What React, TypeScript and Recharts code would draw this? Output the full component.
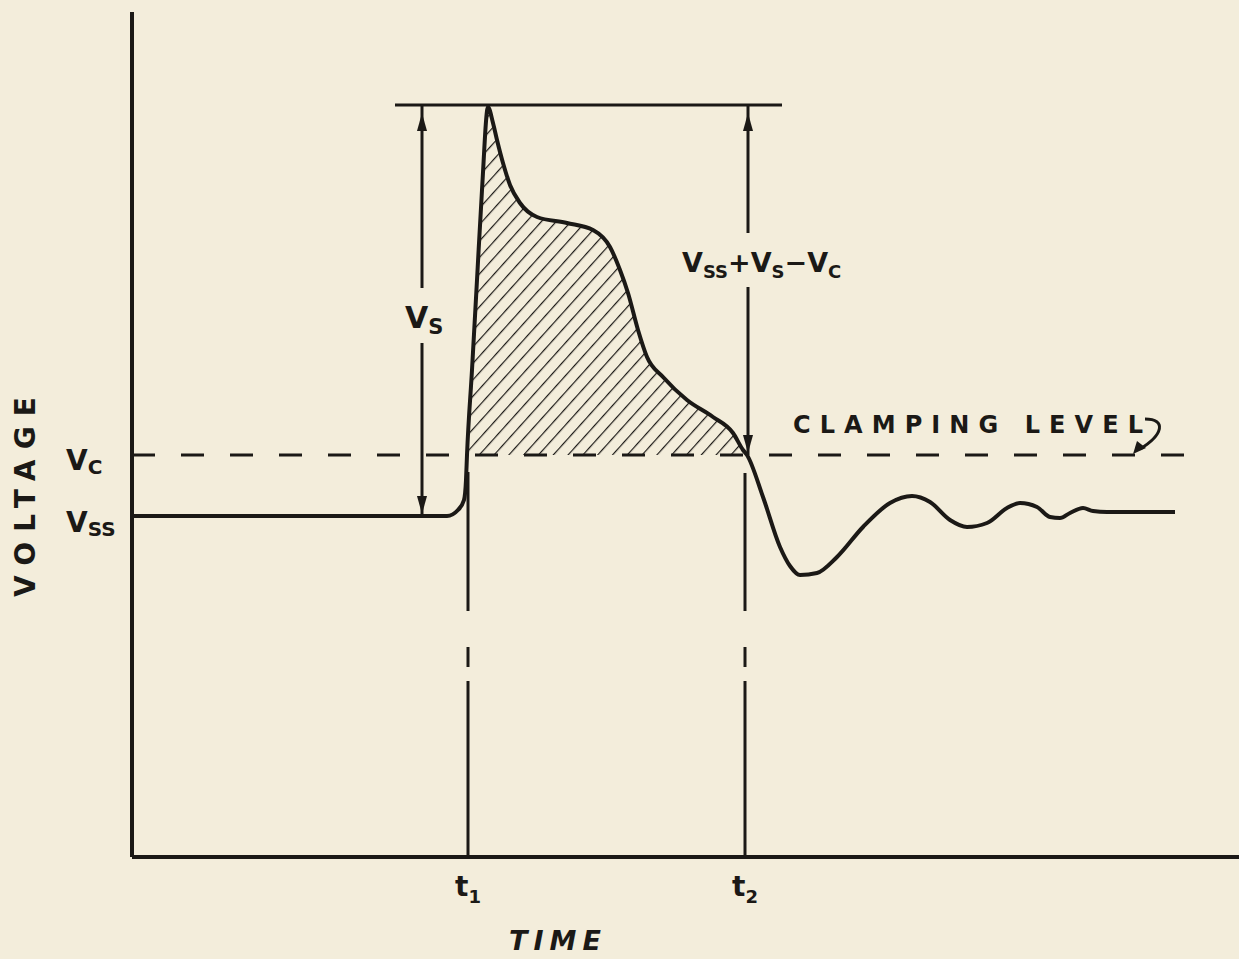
import * as React from "react";
import {
  ComposedChart,
  Line,
  Area,
  XAxis,
  YAxis,
  ReferenceLine,
  ReferenceDot,
  Label,
} from "recharts";

// readings: time and voltage in arbitrary units
const times = [
  0, 1.68, 2.88, 3.15, 3.26, 3.32, 3.34, 3.35, 3.4, 3.45, 3.5, 3.56, 3.61, 3.65,
  3.71, 3.78, 3.88, 4.05, 4.35, 4.61, 4.78, 4.88, 4.96, 5.06, 5.15, 5.31, 5.55,
  5.81, 6.01, 6.11, 6.15, 6.31, 6.48, 6.58, 6.68, 6.85, 7.05, 7.31, 7.58, 7.8,
  7.98, 8.18, 8.35, 8.55, 8.75, 8.88, 9.05, 9.18, 9.28, 9.38, 9.51, 9.61, 9.75,
  10.43,
];
const volts = [
  3.41, 3.41, 3.41, 3.41, 3.47, 3.57, 3.77, 4.02, 4.87, 5.77, 6.67, 7.5, 7.34,
  7.17, 6.94, 6.72, 6.54, 6.4, 6.34, 6.27, 6.1, 5.87, 5.64, 5.27, 5.0, 4.8, 4.57,
  4.4, 4.24, 4.07, 4.02, 3.6, 3.1, 2.91, 2.82, 2.84, 3.0, 3.3, 3.54, 3.61, 3.55,
  3.37, 3.3, 3.34, 3.49, 3.54, 3.5, 3.4, 3.39, 3.44, 3.49, 3.46, 3.45, 3.45,
];

const VSS = 3.41;
const VC = 4.02;
const PEAK = 7.52;
const T1 = 3.36;
const T2 = 6.13;
const X_MAX = 11.07;
const Y_MAX = 8.45;
const CLAMP_END = 10.58;
const TOP_LINE = [2.63, 6.5];
const VS_X = 2.9;
const DIFF_X = 6.16;
const HATCH_RANGE = [3.35, 6.15];
const T1_PIECES = [
  [3.85, 2.46],
  [2.1, 1.9],
  [1.76, 0],
];
const T2_PIECES = [
  [3.84, 2.46],
  [2.1, 1.9],
  [1.76, 0],
];
const VS_GAP = [5.69, 5.14];
const DIFF_GAP = [6.24, 5.7];

const data = times.map((t, i) => ({
  t,
  v: volts[i],
  hatch: t >= HATCH_RANGE[0] && t <= HATCH_RANGE[1] ? [VC, volts[i]] : null,
}));

const INK = "#1b1916";
const PAPER = "#f3eddb";
const FONT = "'DejaVu Sans', sans-serif";

const ArrowUp = (props: any) => (
  <path
    d={`M${props.cx},${props.cy + 8} L${props.cx - 5},${props.cy + 26} L${props.cx + 5},${props.cy + 26} Z`}
    fill={INK}
  />
);
const ArrowDown = (props: any) => (
  <path
    d={`M${props.cx},${props.cy - 2} L${props.cx - 5},${props.cy - 20} L${props.cx + 5},${props.cy - 20} Z`}
    fill={INK}
  />
);

const XTick = (props: any) => (
  <text x={props.x} y={896} textAnchor="middle" fill={INK} fontFamily={FONT} fontWeight="bold" fontSize={28}>
    t
    <tspan fontSize={18} dy={7}>
      {props.payload.value === T1 ? "1" : "2"}
    </tspan>
  </text>
);

const YTick = (props: any) => {
  const isVc = props.payload.value === VC;
  return (
    <text x={66} y={isVc ? 470 : 532} fill={INK} fontFamily={FONT} fontWeight="bold" fontSize={28}>
      V
      <tspan fontSize={20} dy={4}>
        {isVc ? "C" : "SS"}
      </tspan>
    </text>
  );
};

const VsLabel = (props: any) => (
  <text x={props.cx - 17} y={props.cy + 12} fill={INK} fontFamily={FONT} fontWeight="bold" fontSize={30}>
    V<tspan fontSize={21} dy={6}>S</tspan>
  </text>
);

const DiffLabel = (props: any) => (
  <text x={props.cx - 66} y={props.cy + 12} fill={INK} fontFamily={FONT} fontWeight="bold" fontSize={27}>
    V<tspan fontSize={18} dy={6}>SS</tspan>
    <tspan fontSize={27} dy={-6}>+V</tspan>
    <tspan fontSize={18} dy={6}>S</tspan>
    <tspan fontSize={27} dy={-6}>−V</tspan>
    <tspan fontSize={18} dy={6}>C</tspan>
  </text>
);

const ClampLabel = (props: any) => (
  <g>
    <text
      x={props.cx}
      y={props.cy}
      fill={INK}
      fontFamily={FONT}
      fontWeight="bold"
      fontSize={24}
      textLength={350}
      lengthAdjust="spacing"
    >
      CLAMPING LEVEL
    </text>
    <path
      d={`M${props.cx + 352},${props.cy - 14} C${props.cx + 374},${props.cy - 14} ${props.cx + 370},${props.cy + 2} ${props.cx + 347},${props.cy + 16}`}
      fill="none"
      stroke={INK}
      strokeWidth={3}
    />
    <path
      d={`M${props.cx + 340},${props.cy + 21} L${props.cx + 344},${props.cy + 8} L${props.cx + 353},${props.cy + 15} Z`}
      fill={INK}
    />
  </g>
);

export default function App() {
  return (
    <div style={{ position: "absolute", left: 0, top: 0, width: 1239, height: 959, background: PAPER }}>
      <ComposedChart
        width={1239}
        height={959}
        data={data}
        margin={{ top: 12, right: 0, left: 0, bottom: 0 }}
      >
        <defs>
          <pattern id="hatch" width="11" height="11" patternUnits="userSpaceOnUse" patternTransform="rotate(42)">
            <line x1="0" y1="0" x2="0" y2="11" stroke={INK} strokeWidth={2.4} />
          </pattern>
        </defs>
        <XAxis
          dataKey="t"
          type="number"
          domain={[0, X_MAX]}
          ticks={[T1, T2]}
          allowDataOverflow
          height={102}
          tickLine={false}
          axisLine={{ stroke: INK, strokeWidth: 4 }}
          tick={XTick}
        >
          <Label
            content={() => (
              <text x={555} y={950} textAnchor="middle" fill={INK} fontFamily={FONT} fontWeight="bold" fontStyle="italic" fontSize={27} textLength={92} lengthAdjust="spacing">
                TIME
              </text>
            )}
          />
        </XAxis>
        <YAxis
          type="number"
          domain={[0, Y_MAX]}
          ticks={[VSS, VC]}
          allowDataOverflow
          width={132}
          tickLine={false}
          axisLine={{ stroke: INK, strokeWidth: 4 }}
          tick={YTick}
        >
          <Label
            content={() => (
              <text
                x={25}
                y={497}
                transform="rotate(-90 25 497)"
                textAnchor="middle"
                dominantBaseline="central"
                fill={INK}
                fontFamily={FONT}
                fontWeight="bold"
                fontSize={28}
                textLength={200}
                lengthAdjust="spacing"
              >
                VOLTAGE
              </text>
            )}
          />
        </YAxis>

        <Area
          dataKey="hatch"
          type="monotone"
          stroke="none"
          fill="url(#hatch)"
          fillOpacity={1}
          isAnimationActive={false}
          activeDot={false}
        />

        <ReferenceLine
          segment={[{ x: 0, y: VC }, { x: CLAMP_END, y: VC }]}
          stroke={INK}
          strokeWidth={3}
          strokeDasharray="23 26"
        />
        <ReferenceLine
          segment={[{ x: TOP_LINE[0], y: PEAK }, { x: TOP_LINE[1], y: PEAK }]}
          stroke={INK}
          strokeWidth={3}
        />
        {T1_PIECES.map((p, i) => (
          <ReferenceLine key={`t1-${i}`} segment={[{ x: T1, y: p[0] }, { x: T1, y: p[1] }]} stroke={INK} strokeWidth={3} />
        ))}
        {T2_PIECES.map((p, i) => (
          <ReferenceLine key={`t2-${i}`} segment={[{ x: T2, y: p[0] }, { x: T2, y: p[1] }]} stroke={INK} strokeWidth={3} />
        ))}

        <ReferenceLine segment={[{ x: VS_X, y: PEAK }, { x: VS_X, y: VS_GAP[0] }]} stroke={INK} strokeWidth={3} />
        <ReferenceLine segment={[{ x: VS_X, y: VS_GAP[1] }, { x: VS_X, y: VSS }]} stroke={INK} strokeWidth={3} />
        <ReferenceLine segment={[{ x: DIFF_X, y: PEAK }, { x: DIFF_X, y: DIFF_GAP[0] }]} stroke={INK} strokeWidth={3} />
        <ReferenceLine segment={[{ x: DIFF_X, y: DIFF_GAP[1] }, { x: DIFF_X, y: VC }]} stroke={INK} strokeWidth={3} />

        <ReferenceDot x={VS_X} y={PEAK} r={1} shape={ArrowUp} />
        <ReferenceDot x={VS_X} y={VSS} r={1} shape={ArrowDown} />
        <ReferenceDot x={DIFF_X} y={PEAK} r={1} shape={ArrowUp} />
        <ReferenceDot x={DIFF_X} y={VC} r={1} shape={ArrowDown} />
        <ReferenceDot x={VS_X} y={(VS_GAP[0] + VS_GAP[1]) / 2} r={1} shape={VsLabel} />
        <ReferenceDot x={DIFF_X} y={(DIFF_GAP[0] + DIFF_GAP[1]) / 2} r={1} shape={DiffLabel} />
        <ReferenceDot x={6.61} y={4.24} r={1} shape={ClampLabel} />

        <Line
          dataKey="v"
          type="monotone"
          stroke={INK}
          strokeWidth={4}
          dot={false}
          activeDot={false}
          isAnimationActive={false}
        />
      </ComposedChart>
    </div>
  );
}
